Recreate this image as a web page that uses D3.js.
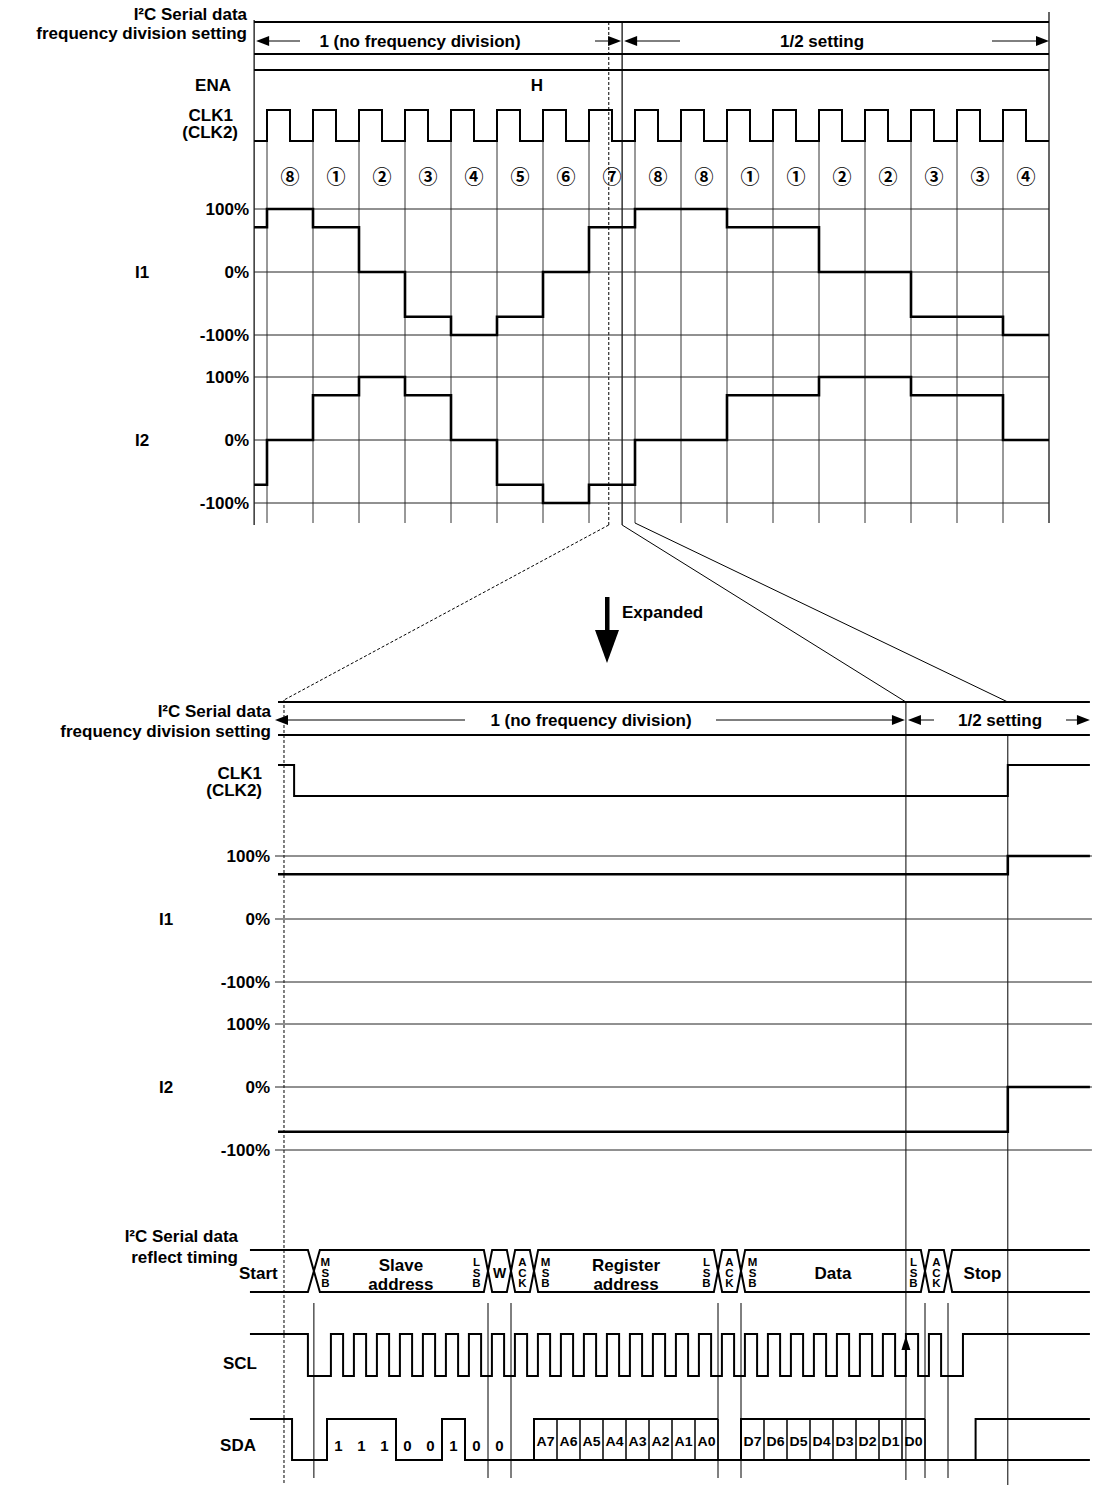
<!DOCTYPE html>
<html>
<head>
<meta charset="utf-8">
<script src="https://cdn.jsdelivr.net/npm/d3@7"></script>
<style>
  body { margin: 0; background: #fff; }
  text { font-family: "Liberation Sans", Arial, sans-serif; font-weight: bold; fill: #000; }
</style>
</head>
<body>
<div id="chart"></div>
<script>
// ---------- data ----------
// phase number of each CLK period (top diagram)
var phaseLabels = ["⑧","①","②","③","④","⑤","⑥","⑦","⑧","⑧","①","①","②","②","③","③","④"];
// coil currents in %, first value = state before the first CLK edge
var i1Top = [71, 100, 71, 0, -71, -100, -71, 0, 71, 100, 100, 71, 71, 0, 0, -71, -71, -100];
var i2Top = [-71, 0, 71, 100, 71, 0, -71, -100, -71, 0, 0, 71, 71, 100, 100, 71, 71, 0];
var levelTicks = [100, 0, -100];
var levelLabels = ["100%", "0%", "-100%"];

// expanded view: current before / after the CLK rising edge
var i1Expanded = [71, 100];
var i2Expanded = [-71, 0];

// I2C frame (times in SCL bit periods)
var slaveBits = ["1", "1", "1", "0", "0", "1", "0", "0"];   // 7 bit address + W
var regBits = ["A7", "A6", "A5", "A4", "A3", "A2", "A1", "A0"];
var dataBits = ["D7", "D6", "D5", "D4", "D3", "D2", "D1", "D0"];
var busFields = [
  {name: "Start", from: -3.35, to: -0.57},
  {name: "Slave address", from: -0.57, to: 7, msb: true, lsb: true},
  {name: "W", from: 7, to: 8},
  {name: "ACK", from: 8, to: 9, stack: true},
  {name: "Register address", from: 9, to: 17, msb: true, lsb: true},
  {name: "ACK", from: 17, to: 18, stack: true},
  {name: "Data", from: 18, to: 26, msb: true, lsb: true},
  {name: "ACK", from: 26, to: 27, stack: true},
  {name: "Stop", from: 27, to: 33.17}
];
var ackMarks = [-0.57, 7, 8, 17, 18, 26, 27];

// ---------- layout ----------
var W = 1094, H = 1485;
var svg = d3.select("#chart").append("svg")
  .attr("width", W).attr("height", H)
  .style("background", "#fff");

var xT = d3.scaleLinear().domain([0, 17]).range([267, 1049]);     // top: CLK periods
var xB = d3.scaleLinear().domain([0, 27]).range([327, 948]);      // bottom: SCL bits

var topLeft = -0.28, topDash = 7.43, topSplit = 7.72;
var botLeft = -2.13, botDash = -1.87, botSplit = 25.17, botClkRise = 29.6, botClkFall = -1.43, botRight = 33.17;
var busStart = -3.35, sdaStartFall = -1.52, sclStartFall = -0.83, sclStop = 27.65, sdaStop = 28.2;

var yI1 = d3.scaleLinear().domain([-100, 100]).range([335, 209]);
var yI2 = d3.scaleLinear().domain([-100, 100]).range([503, 377]);
var yI1b = d3.scaleLinear().domain([-100, 100]).range([982, 856]);
var yI2b = d3.scaleLinear().domain([-100, 100]).range([1150, 1024]);

function line(x1, y1, x2, y2, w, dash) {
  var l = svg.append("line")
    .attr("x1", x1).attr("y1", y1).attr("x2", x2).attr("y2", y2)
    .attr("stroke", "#000").attr("stroke-width", w || 1);
  if (dash) l.attr("stroke-dasharray", dash);
  return l;
}
function label(x, y, s, anchor, size) {
  return svg.append("text")
    .attr("x", x).attr("y", y)
    .attr("text-anchor", anchor || "end")
    .style("font-size", (size || 17) + "px")
    .text(s);
}
function arrowHead(x, y, dir) {   // dir: 1 = pointing right, -1 = left, "up"
  var p;
  if (dir === "up") p = [[x, y], [x - 4.5, y + 14], [x + 4.5, y + 14]];
  else p = [[x, y], [x - dir * 13, y - 5], [x - dir * 13, y + 5]];
  svg.append("path").attr("d", "M" + p.join("L") + "Z").attr("fill", "#000");
}
function stepPath(pts, xs, ys, w) {
  var g = d3.line().x(function(d) { return xs(d.t); }).y(function(d) { return ys(d.v); })
    .curve(d3.curveStepAfter);
  svg.append("path").attr("d", g(pts))
    .attr("fill", "none").attr("stroke", "#000").attr("stroke-width", w)
    .attr("stroke-linejoin", "miter");
}

// =================== TOP DIAGRAM ===================
label(247, 20, "I\u00b2C Serial data");
label(247, 39, "frequency division setting");
label(231, 91, "ENA");
label(233, 121, "CLK1");
label(238, 138, "(CLK2)");

// bus / ENA lines
line(xT(topLeft), 22, xT(17), 22, 2);
line(xT(topLeft), 54, xT(17), 54, 2);
line(xT(topLeft), 70, xT(17), 70, 2.2);
label(537, 91, "H", "middle");

// setting arrows
var yArr = 41;
arrowHead(xT(topLeft) + 2, yArr, -1);
line(xT(topLeft) + 8, yArr, 300, yArr, 1);
label(420, yArr + 6, "1 (no frequency division)", "middle");
line(595, yArr, xT(topSplit) - 8, yArr, 1);
arrowHead(xT(topSplit) - 1, yArr, 1);
arrowHead(xT(topSplit) + 2, yArr, -1);
line(xT(topSplit) + 8, yArr, 680, yArr, 1);
label(822, yArr + 6, "1/2 setting", "middle");
line(992, yArr, xT(17) - 8, yArr, 1);
arrowHead(xT(17), yArr, 1);

// frame verticals
line(xT(topLeft), 20, xT(topLeft), 525, 1.2);
line(xT(17), 12, xT(17), 523, 1.2);
line(xT(topSplit), 22, xT(topSplit), 525, 1.2);
line(xT(topDash), 22, xT(topDash), 525, 1, "3,2");

// grid verticals at CLK rising edges
d3.range(0, 17).forEach(function(k) {
  line(xT(k), 110, xT(k), 523, 1).attr("stroke", "#333");
});

// CLK waveform
var clkPts = [{t: topLeft, v: 0}];
d3.range(0, 17).forEach(function(k) {
  clkPts.push({t: k, v: 1}); clkPts.push({t: k + 0.5, v: 0});
});
clkPts.push({t: 17, v: 0});
stepPath(clkPts, xT, d3.scaleLinear().domain([0, 1]).range([141, 110]), 2);

// phase numbers
svg.selectAll(".ph").data(phaseLabels).enter().append("text")
  .attr("class", "ph")
  .attr("x", function(d, i) { return xT(i + 0.5); })
  .attr("y", 184)
  .attr("text-anchor", "middle")
  .style("font-family", "'Noto Sans CJK JP', 'DejaVu Sans', sans-serif")
  .style("font-size", "19px")
  .text(function(d) { return d; });

// level grid + labels
[[yI1, "I1"], [yI2, "I2"]].forEach(function(p) {
  var ys = p[0];
  levelTicks.forEach(function(v, i) {
    line(xT(topLeft), ys(v), xT(17), ys(v), 1).attr("stroke", "#222");
    label(249, ys(v) + 6, levelLabels[i]);
  });
  label(142, ys(0) + 6, p[1], "middle");
});

function currentPts(vals) {
  var pts = [{t: topLeft, v: vals[0]}];
  vals.slice(1).forEach(function(v, k) { pts.push({t: k, v: v}); });
  pts.push({t: 17, v: vals[vals.length - 1]});
  return pts;
}
stepPath(currentPts(i1Top), xT, yI1, 2.6);
stepPath(currentPts(i2Top), xT, yI2, 2.6);

// =================== ZOOM LINES ===================
line(xT(topDash), 525, xB(botDash), 700, 1, "3,2");
line(xT(topSplit), 525, xB(botSplit), 702, 1);
line(xT(8), 523, xB(botClkRise), 702, 1);

// Expanded arrow
svg.append("rect").attr("x", 605).attr("y", 597).attr("width", 4.5).attr("height", 36).attr("fill", "#000");
svg.append("path").attr("d", "M595,630L619,630L607,663Z").attr("fill", "#000");
label(622, 618, "Expanded", "start");

// =================== BOTTOM DIAGRAM ===================
label(271, 717, "I\u00b2C Serial data");
label(271, 737, "frequency division setting");
line(xB(botLeft), 702, xB(botRight), 702, 2);
line(xB(botLeft), 735, xB(botRight), 735, 2);

var yArr2 = 720;
arrowHead(xB(botLeft) - 3, yArr2, -1);
line(xB(botLeft) + 5, yArr2, 465, yArr2, 1);
label(591, yArr2 + 6, "1 (no frequency division)", "middle");
line(716, yArr2, xB(botSplit) - 8, yArr2, 1);
arrowHead(xB(botSplit) - 1, yArr2, 1);
arrowHead(xB(botSplit) + 2, yArr2, -1);
line(xB(botSplit) + 8, yArr2, 934, yArr2, 1);
label(1000, yArr2 + 6, "1/2 setting", "middle");
line(1066, yArr2, xB(botRight) - 8, yArr2, 1);
arrowHead(xB(botRight), yArr2, 1);

// verticals
line(xB(botDash), 700, xB(botDash), 1485, 1, "3,2");
line(xB(botSplit), 702, xB(botSplit), 1480, 1);
line(xB(botClkRise), 735, xB(botClkRise), 1485, 1);

// CLK
label(262, 779, "CLK1");
label(262, 796, "(CLK2)");
stepPath([{t: botLeft, v: 1}, {t: botClkFall, v: 0}, {t: botClkRise, v: 1}, {t: botRight, v: 1}],
  xB, d3.scaleLinear().domain([0, 1]).range([796, 765]), 2);

// level grid
[[yI1b, "I1", i1Expanded], [yI2b, "I2", i2Expanded]].forEach(function(p) {
  var ys = p[0];
  levelTicks.forEach(function(v, i) {
    line(xB(botLeft) - 3, ys(v), xB(botRight) + 2, ys(v), 1).attr("stroke", "#222");
    label(270, ys(v) + 6, levelLabels[i]);
  });
  label(166, ys(0) + 6, p[1], "middle");
  stepPath([{t: botLeft, v: p[2][0]}, {t: botClkRise, v: p[2][1]}, {t: botRight, v: p[2][1]}], xB, ys, 2.6);
});

// ---------- I2C bus ----------
label(238, 1242, "I\u00b2C Serial data");
label(238, 1263, "reflect timing");
var bTop = 1250, bBot = 1292, bMid = (bTop + bBot) / 2;
busFields.forEach(function(f, i) {
  var h0 = i === 0 ? 0 : (i === 1 ? 0.26 : 0.18);
  var hEnd = i === 0 ? 0.26 : 0.18;
  var a = xB(f.from), b = xB(f.to), ha = h0 * 23, hb = hEnd * 23;
  var d;
  if (i === 0) {
    d = "M" + a + "," + bTop + "L" + (b - hb) + "," + bTop + "L" + b + "," + bMid + "L" + (b - hb) + "," + bBot + "L" + a + "," + bBot;
  } else if (i === busFields.length - 1) {
    d = "M" + xB(botRight) + "," + bTop + "L" + (a + ha) + "," + bTop + "L" + a + "," + bMid + "L" + (a + ha) + "," + bBot + "L" + xB(botRight) + "," + bBot;
  } else {
    d = "M" + a + "," + bMid + "L" + (a + ha) + "," + bTop + "L" + (b - hb) + "," + bTop + "L" + b + "," + bMid +
        "L" + (b - hb) + "," + bBot + "L" + (a + ha) + "," + bBot + "Z";
  }
  svg.append("path").attr("d", d).attr("fill", "none").attr("stroke", "#000").attr("stroke-width", 2);

  function stack(t, s) {
    s.split("").forEach(function(c, j) {
      label(xB(t), 1266 + j * 10.5, c, "middle", 11.5);
    });
  }
  if (f.msb) stack(f.from + 0.5, "MSB");
  if (f.lsb) stack(f.to - 0.5, "LSB");
  if (f.stack) { stack((f.from + f.to) / 2, f.name); return; }
  if (f.name === "Start") { label(xB(f.from) - 11, 1279, "Start", "start"); return; }
  if (f.name === "Stop") { label(xB(f.from + 1.5), 1279, "Stop", "middle"); return; }
  if (f.name === "W") { label(xB(7.5), 1278, "W", "middle", 14); return; }
  var words = f.name.split(" ");
  var cx = xB((f.from + f.to) / 2);
  if (words.length === 2) {
    label(cx, 1271, words[0], "middle");
    label(cx, 1290, words[1], "middle");
  } else {
    label(cx, 1279, words[0], "middle");
  }
});

// marker lines below bus
ackMarks.forEach(function(t) {
  line(xB(t), 1303, xB(t), 1478, 1);
});

// SCL
label(257, 1369, "SCL");
var sclPts = [{t: busStart, v: 1}, {t: sclStartFall, v: 0}];
d3.range(0, 27).forEach(function(k) {
  sclPts.push({t: k + 0.17, v: 1}); sclPts.push({t: k + 0.7, v: 0});
});
sclPts.push({t: sclStop, v: 1}); sclPts.push({t: botRight, v: 1});
stepPath(sclPts, xB, d3.scaleLinear().domain([0, 1]).range([1376, 1334]), 2);
arrowHead(xB(botSplit), 1336, "up");

// SDA
label(256, 1451, "SDA");
var ySda = d3.scaleLinear().domain([0, 1]).range([1460, 1419]);
var sdaPts = [{t: busStart, v: 1}, {t: sdaStartFall, v: 0}];
slaveBits.forEach(function(b, k) { sdaPts.push({t: k, v: +b}); });
sdaPts.push({t: 8, v: 0}); sdaPts.push({t: 9, v: 0});
stepPath(sdaPts, xB, ySda, 2);
stepPath([{t: 17, v: 0}, {t: 18, v: 0}], xB, ySda, 2);
stepPath([{t: 26, v: 0}, {t: sdaStop, v: 1}, {t: botRight, v: 1}], xB, ySda, 2);
line(xB(sdaStop), ySda(0), xB(botRight), ySda(0), 2);

slaveBits.forEach(function(b, k) {
  label(xB(k + 0.5), 1451, b, "middle", 15);
});

function boxes(bits, t0) {
  svg.append("path")
    .attr("d", "M" + xB(t0) + "," + ySda(0) + "L" + xB(t0) + "," + ySda(1) + "L" + xB(t0 + bits.length) + "," + ySda(1) +
               "M" + xB(t0) + "," + ySda(0) + "L" + xB(t0 + bits.length) + "," + ySda(0))
    .attr("fill", "none").attr("stroke", "#000").attr("stroke-width", 2);
  bits.forEach(function(b, k) {
    line(xB(t0 + k + 1), ySda(1), xB(t0 + k + 1), ySda(0), 1.5);
    label(xB(t0 + k + 0.5), 1446, b, "middle", 12).attr("textLength", 18).attr("lengthAdjust", "spacingAndGlyphs");
  });
}
boxes(regBits, 9);
boxes(dataBits, 18);
</script>
</body>
</html>
